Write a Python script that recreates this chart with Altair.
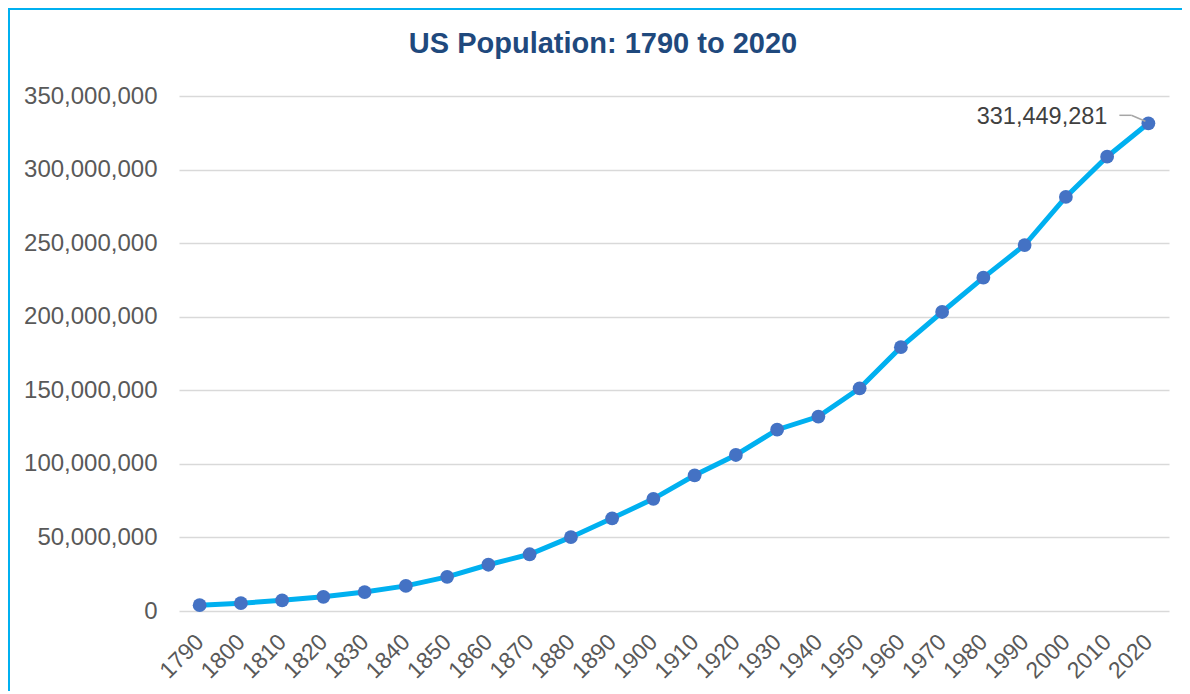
import altair as alt
import pandas as pd

years = ["1790", "1800", "1810", "1820", "1830", "1840", "1850", "1860", "1870", "1880",
         "1890", "1900", "1910", "1920", "1930", "1940", "1950", "1960", "1970", "1980",
         "1990", "2000", "2010", "2020"]
population = [3929214, 5308483, 7239881, 9638453, 12866020, 17069453, 23191876, 31443321,
              38558371, 50189209, 62979766, 76212168, 92228496, 106021537, 123202624,
              132164569, 151325798, 179323175, 203211926, 226545805, 248709873,
              281421906, 308745538, 331449281]
y_ticks = [0, 50000000, 100000000, 150000000, 200000000, 250000000, 300000000, 350000000]
label_year = "2020"
label_text = "331,449,281"
title_text = "US Population: 1790 to 2020"

df = pd.DataFrame({"year": years, "pop": population})
lab = pd.DataFrame({"year": [label_year], "pop": [population[-1]], "txt": [label_text]})
ttl = pd.DataFrame({"t": [title_text]})

W, H = 990, 515
FONT = "Liberation Sans"

x = alt.X("year:O", title=None, sort=years,
          scale=alt.Scale(type="point", padding=0.5),
          axis=alt.Axis(labelAngle=-45, labelFontSize=23, labelColor="#595959",
                        labelFont=FONT, ticks=False, domain=False, grid=False,
                        labelPadding=27, labelAlign="right", labelBaseline="middle"))
y = alt.Y("pop:Q", title=None,
          scale=alt.Scale(domain=[0, 350000000], nice=False),
          axis=alt.Axis(values=y_ticks, format=",d", labelFontSize=24, labelColor="#595959",
                        labelFont=FONT, ticks=False, domain=False, grid=True,
                        gridColor="#D9D9D9", gridWidth=1.5, labelPadding=22))

frame = alt.Chart(df.head(1)).mark_rect(fill=None, stroke="#00B0F0", strokeWidth=2).encode(
    x=alt.value(-170), x2=alt.value(1030), y=alt.value(-87), y2=alt.value(620))

title = alt.Chart(ttl).mark_text(align="center", baseline="alphabetic", fontSize=29,
                                 font=FONT, fontWeight="bold", color="#1F497D").encode(
    x=alt.value(424), y=alt.value(-43), text="t:N")

line = alt.Chart(df).mark_line(color="#00B0F0", strokeWidth=5).encode(x=x, y=y)
pts = alt.Chart(df).mark_circle(color="#4472C4", size=190, opacity=1).encode(x=x, y=y)

txt = alt.Chart(lab).mark_text(align="right", baseline="middle", dx=-41, dy=-6,
                               fontSize=23.5, font=FONT, color="#404040").encode(
    x=x, y=y, text="txt:N")
lead1 = alt.Chart(lab).mark_rule(color="#A6A6A6", strokeWidth=1.5,
                                 xOffset=-29, x2Offset=-17, yOffset=-8, y2Offset=-8).encode(
    x=x, x2="year:O", y=y, y2="pop:Q")
lead2 = alt.Chart(lab).mark_rule(color="#A6A6A6", strokeWidth=1.5,
                                 xOffset=-17, x2Offset=-3, yOffset=-8, y2Offset=-2).encode(
    x=x, x2="year:O", y=y, y2="pop:Q")

chart = alt.layer(frame, title, line, pts, lead1, lead2, txt).properties(
    width=W, height=H,
    autosize=alt.AutoSizeParams(type="none"),
    padding={"left": 171, "top": 88, "right": 13, "bottom": 80},
    background="white",
).configure_view(stroke=None)

chart.save("out.html", embed_options={"renderer": "svg", "actions": False})
